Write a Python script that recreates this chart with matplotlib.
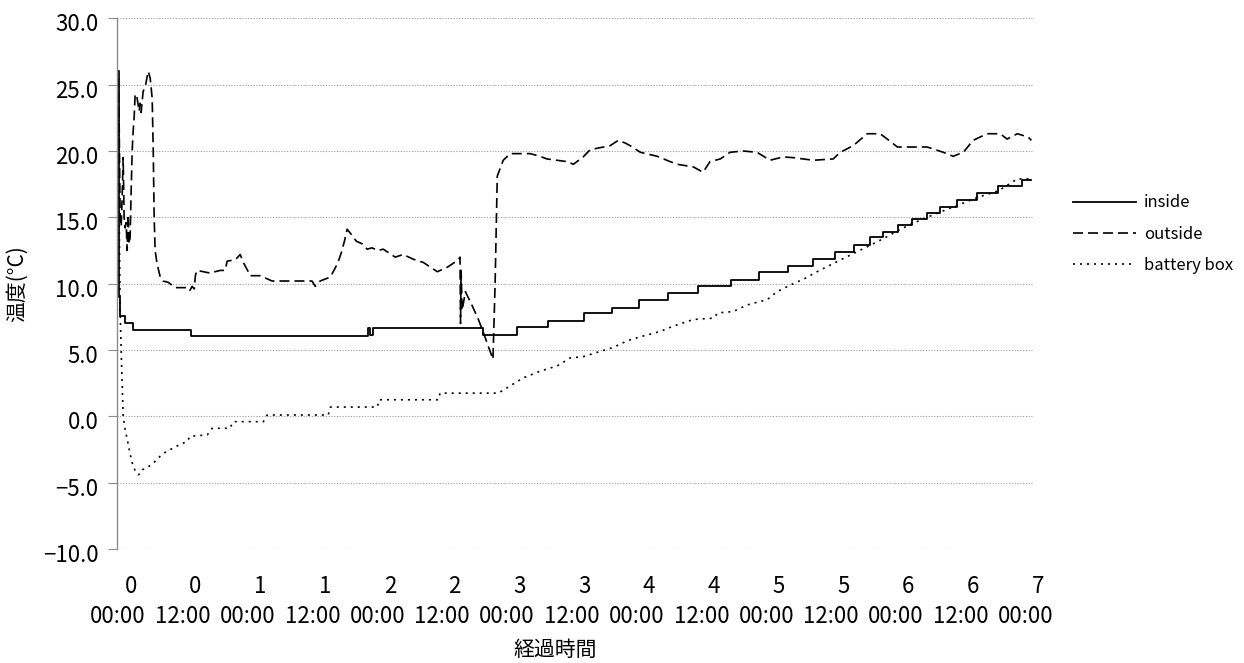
import matplotlib
matplotlib.use("Agg")
import matplotlib.pyplot as plt
from matplotlib.ticker import FuncFormatter
from matplotlib.transforms import ScaledTranslation

plt.rcParams["font.family"] = ["Noto Sans CJK JP", "DejaVu Sans"]

# 経過時間 [h] と温度 [°C]
inside_h = [0, 0.1, 0.28, 1.3, 2.78, 13.5, 46.3, 46.7, 47.1, 67.6, 73.9, 79.6,
            86.3, 91.5, 96.5, 101.9, 107.4, 113.5, 118.7, 124.1, 128.7, 132.8,
            136.3, 139.3, 141.7, 144.4, 146.9, 149.8, 152.2, 155.4, 159.1,
            163.0, 167.4, 169.1]
inside_t = [26.0, 9.0, 7.55, 7.0, 6.5, 6.05, 6.65, 6.1, 6.65, 6.1, 6.7, 7.2,
            7.8, 8.2, 8.75, 9.3, 9.8, 10.3, 10.85, 11.35, 11.85, 12.4, 12.9,
            13.5, 13.9, 14.4, 14.9, 15.3, 15.8, 16.3, 16.8, 17.35, 17.8, 17.8]

outside_h = [0, 0.19, 0.37, 0.56, 0.74, 0.93, 1.11, 1.3, 1.48, 1.67, 1.85,
             2.04, 2.22, 2.41, 2.6, 2.78, 2.96, 3.15, 3.5, 3.9, 4.07, 4.26,
             4.63, 5.0, 5.56, 5.93, 6.3, 6.5, 6.67, 6.85, 7.2, 7.8, 8.3, 9.26,
             10.6, 13.0, 13.3, 13.7, 14.1, 14.3, 14.6, 17.0, 18.9, 19.8, 20.2,
             21.7, 22.6, 23.3, 24.1, 24.4, 26.3, 28.5, 33.7, 35.9, 36.5, 37.4,
             39.3, 40.6, 41.3, 41.9, 42.4, 43.2, 44.1, 45.2, 46.1, 47.0, 48.1,
             49.1, 51.3, 52.8, 54.6, 56.5, 59.1, 61.0, 63.0, 63.3, 63.4, 63.5,
             63.7, 64.3, 65.6, 66.7, 67.6, 68.7, 69.4, 69.8, 70.2, 71.3, 72.6,
             76.3, 78.1, 79.4, 83.1, 84.3, 86.1, 87.4, 89.8, 91.1, 92.6, 93.9,
             94.8, 96.7, 99.8, 102.2, 103.5, 106.5, 108.3, 109.6, 111.5, 113.3,
             115.7, 118.3, 120.7, 123.1, 125.0, 128.7, 132.4, 133.7, 136.1,
             138.7, 141.1, 142.4, 144.3, 149.8, 152.8, 154.6, 156.5, 158.3,
             160.9, 163.3, 164.6, 166.5, 168.5, 169.1]
outside_t = [25.5, 22.0, 15.0, 14.3, 16.5, 19.5, 15.0, 14.2, 14.6, 12.5, 15.2,
             13.0, 13.5, 17.0, 20.0, 21.5, 22.5, 24.3, 24.0, 23.0, 23.6, 22.9,
             24.5, 24.8, 26.0, 25.5, 24.0, 20.0, 15.0, 12.5, 11.5, 10.5, 10.2,
             10.1, 9.7, 9.7, 9.5, 9.8, 9.6, 10.6, 11.0, 10.8, 11.0, 11.0, 11.7,
             11.8, 12.2, 11.5, 10.9, 10.6, 10.6, 10.2, 10.2, 10.2, 9.8, 10.2,
             10.5, 11.5, 12.3, 13.2, 14.1, 13.7, 13.2, 13.0, 12.6, 12.7, 12.5,
             12.6, 12.0, 12.2, 11.85, 11.6, 10.9, 11.25, 11.8, 12.0, 7.0, 11.0,
             8.0, 9.4, 8.3, 7.3, 6.35, 5.1, 4.3, 10.0, 18.1, 19.3, 19.8, 19.8,
             19.6, 19.4, 19.2, 19.0, 19.55, 20.1, 20.3, 20.4, 20.8, 20.6, 20.4,
             19.9, 19.6, 19.2, 19.0, 18.8, 18.4, 19.2, 19.4, 19.9, 20.0, 19.9,
             19.3, 19.55, 19.5, 19.3, 19.4, 19.9, 20.4, 21.3, 21.3, 20.9, 20.3,
             20.3, 19.9, 19.6, 19.9, 20.8, 21.3, 21.3, 20.9, 21.3, 21.05, 20.8]

battery_h = [0, 0.19, 0.37, 0.56, 0.93, 1.3, 1.67, 2.2, 2.6, 3.15, 3.7, 4.26,
             4.6, 5.6, 6.85, 7.8, 9.1, 10.2, 11.5, 12.8, 13.3, 16.5, 17.4,
             20.7, 21.3, 26.9, 27.6, 38.9, 39.3, 48.0, 48.3, 59.3, 59.6, 70.4,
             72.6, 75.0, 78.1, 81.3, 83.7, 86.1, 89.3, 91.7, 94.3, 96.7, 100.4,
             102.8, 106.5, 110.2, 111.1, 113.9, 116.5, 120.2, 122.0, 124.5,
             127.2, 129.4, 132.8, 136.3, 139.3, 141.7, 144.4, 146.9, 149.8,
             152.2, 155.4, 159.1, 163.0, 166.5, 168.9]
battery_t = [25.5, 15.0, 8.0, 5.0, 0.0, -1.0, -1.7, -2.8, -3.5, -4.1, -4.4,
             -4.3, -4.0, -3.8, -3.4, -3.0, -2.6, -2.4, -2.1, -1.9, -1.5, -1.4,
             -0.9, -0.9, -0.4, -0.4, 0.1, 0.1, 0.7, 0.7, 1.25, 1.25, 1.75, 1.75,
             2.3, 2.9, 3.4, 3.8, 4.4, 4.5, 4.9, 5.2, 5.7, 6.0, 6.4, 6.8, 7.3,
             7.4, 7.8, 7.9, 8.4, 8.8, 9.4, 9.9, 10.4, 10.9, 11.6, 12.3, 12.9,
             13.4, 14.0, 14.5, 15.0, 15.4, 15.9, 16.5, 17.0, 17.9, 17.9]

tick_h = list(range(0, 169, 12))
tick_day = [str(h // 24) for h in tick_h]
tick_clock = ["00:00" if h % 24 == 0 else "12:00" for h in tick_h]

fig = plt.figure(figsize=(12.44, 6.63), dpi=100)
ax = fig.add_axes([0.0941, 0.1719, 0.7363, 0.8005])

ax.plot(inside_h, inside_t, drawstyle="steps-post", color="black",
        linewidth=1.3, label="inside")
ax.plot(outside_h, outside_t, color="black", linewidth=1.2,
        dashes=(6, 3), label="outside")
ax.plot(battery_h, battery_t, color="black", linewidth=1.2,
        dashes=(1.2, 3), label="battery box")

ax.set_xlim(-0.2, 169.4)
ax.set_ylim(-10, 30)
ax.set_yticks(range(-10, 31, 5))
ax.yaxis.set_major_formatter(
    FuncFormatter(lambda v, p: f"{v:.1f}".replace("-", "\u2212")))
ax.grid(True, axis="y", linestyle=(0, (1, 1.5)), color="#9a9a9a",
        linewidth=0.8)
ax.set_axisbelow(True)

for side in ["top", "right", "bottom"]:
    ax.spines[side].set_visible(False)
ax.spines["left"].set_color("#8c8c8c")
ax.spines["left"].set_linewidth(1.0)

ax.tick_params(axis="y", length=6.5, width=0.8, color="#8c8c8c", pad=7,
               labelsize=16)
offset = ScaledTranslation(0, -4 / 100, fig.dpi_scale_trans)
for lab in ax.get_yticklabels():
    lab.set_transform(lab.get_transform() + offset)

ax.set_xticks(tick_h)
ax.set_xticklabels(tick_clock)
ax.tick_params(axis="x", length=0, pad=40, labelsize=16)
for h, d in zip(tick_h, tick_day):
    ax.annotate(d, xy=(h, 0), xycoords=("data", "axes fraction"),
                xytext=(9, -27), textcoords="offset points",
                ha="center", va="center", fontsize=16)

ax.set_xlabel("経過時間", fontsize=15)
ax.xaxis.set_label_coords((555 - 117) / 916, -0.170)
ax.set_ylabel("温度(°C)", fontsize=15)
ax.yaxis.set_label_coords(-0.097, 0.5)

fig.legend(loc="center left", bbox_to_anchor=(1073 / 1244, 1 - 234 / 663),
           frameon=False, fontsize=12, handlelength=3.8,
           handletextpad=0.45, labelspacing=0.85, borderpad=0,
           borderaxespad=0)

fig.savefig("out.png", dpi=100)
